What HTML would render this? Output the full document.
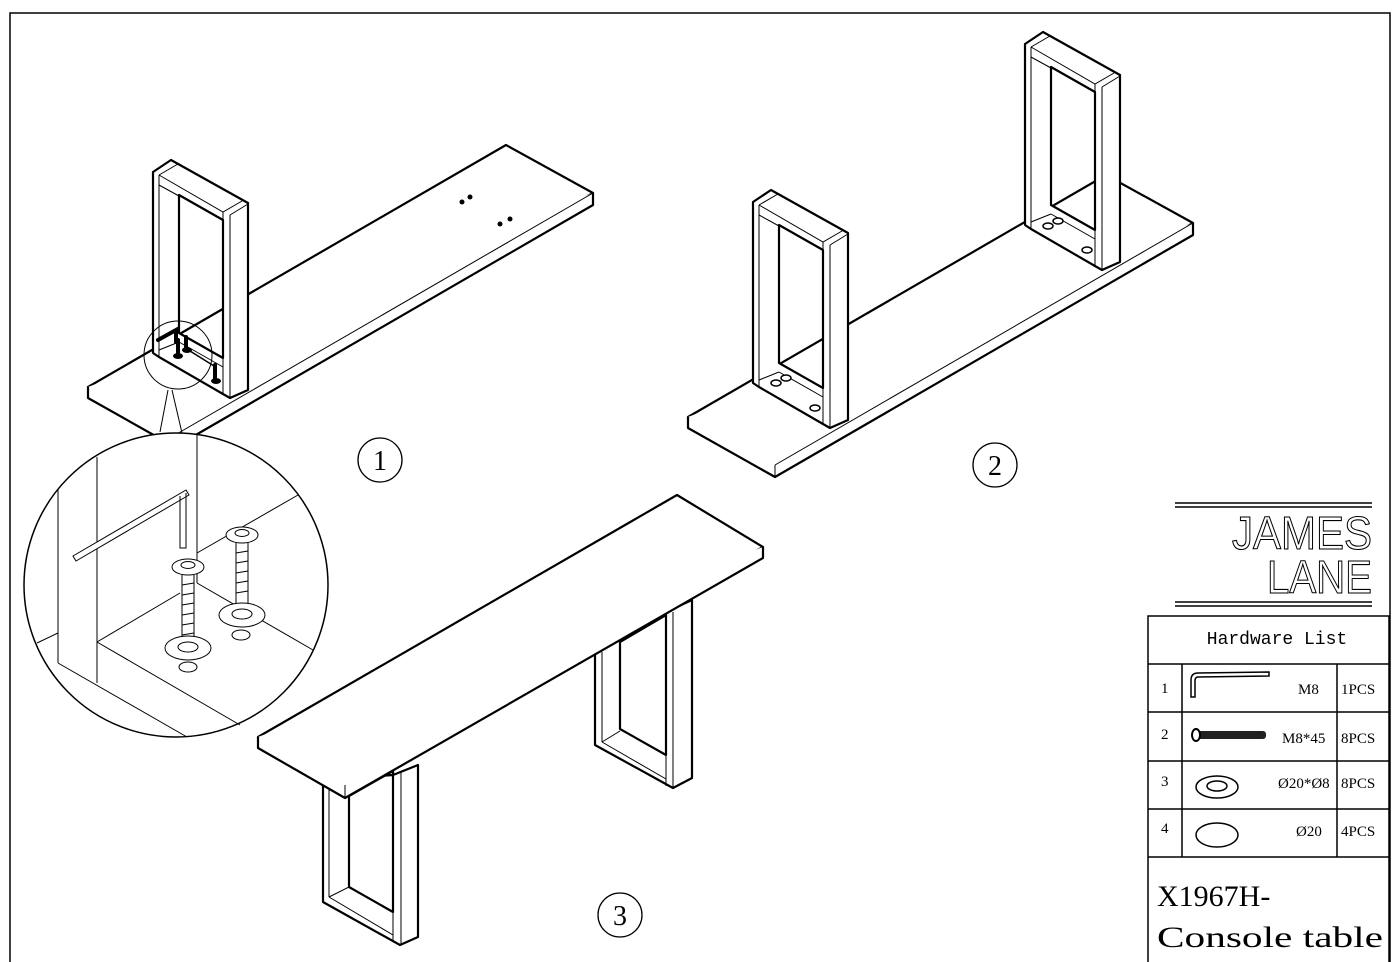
<!DOCTYPE html>
<html><head><meta charset="utf-8"><style>
html,body{margin:0;padding:0;background:#fff}
svg{display:block}
text{font-family:"Liberation Serif",serif}
</style></head><body>
<svg width="1398" height="962" viewBox="0 0 1398 962" xmlns="http://www.w3.org/2000/svg">
<defs>
<g id="board">
  <path d="M688,417 L1106,175 L1193,223 L775,465 Z" fill="#fff" stroke="#000" stroke-width="2.2" stroke-linejoin="round"/>
  <path d="M688,417 L688,428 L775,477 L1193,235 L1193,223" fill="#fff" stroke="#000" stroke-width="2.2" stroke-linejoin="round"/>
  <path d="M775,465 L775,477" stroke="#000" stroke-width="1"/>
  <path d="M775,465 L1193,223" stroke="#000" stroke-width="1"/>
</g>
<g id="frame">
  <path d="M753,202 L771,190 L848,233 L848,420 L830,428 L823,424 L759,387 L753,383 Z M779,225 L823,250 L823,388 L779,363 Z" fill="#fff" fill-rule="evenodd" stroke="#000" stroke-width="2.2" stroke-linejoin="round"/>
  <g stroke="#000" stroke-width="1" fill="none">
    <path d="M759,205 L778,194"/>
    <path d="M759,205 L823,242 L842,231"/>
    <path d="M823,242 L823,424"/>
    <path d="M830,245 L830,428"/>
    <path d="M830,245 L848,234"/>
    <path d="M759,205 L759,387"/>
    <path d="M759,215 L779,226"/>
    <path d="M779,372 L823,397"/>
    <path d="M759,380 L779,372"/>
  </g>
</g>
</defs>

<path d="M10,962 L10,13 L1390,13 L1390,962" fill="none" stroke="#000" stroke-width="1.5"/>

<use href="#board"/>
<use href="#frame"/>
<use href="#frame" transform="translate(272,-158)"/>
<g fill="#fff" stroke="#000" stroke-width="1.5">
  <ellipse cx="776" cy="383" rx="5" ry="3"/><ellipse cx="786" cy="378" rx="5" ry="3"/><ellipse cx="815" cy="408" rx="5" ry="3"/>
  <ellipse cx="1048" cy="226" rx="5" ry="3"/><ellipse cx="1058" cy="221" rx="5" ry="3"/><ellipse cx="1087" cy="250" rx="5" ry="3"/>
</g>

<g transform="translate(-600,-30)">
  <use href="#board"/>
  <use href="#frame"/>
</g>
<g fill="#000">
  <circle cx="462" cy="202" r="2.5"/><circle cx="470" cy="197" r="2.5"/>
  <circle cx="500" cy="224" r="2.5"/><circle cx="510" cy="219" r="2.5"/>
</g>
<g stroke="#000" stroke-width="4" stroke-linecap="round" fill="none">
  <path d="M158,340 L176,330 L176,342"/>
  <path d="M178,340 L178,355"/><path d="M186,337 L186,350"/><path d="M215,365 L215,380"/>
</g>
<g fill="#000"><ellipse cx="178" cy="356" rx="5" ry="3"/><ellipse cx="187" cy="350" rx="5" ry="3"/><ellipse cx="216" cy="381" rx="5" ry="3"/></g>
<path d="M190,351 L214,366" stroke="#000" stroke-width="1.5"/>
<circle cx="178" cy="355" r="34" fill="none" stroke="#000" stroke-width="1"/>
<path d="M160,432 L168,390 M182,433 L172,390" stroke="#000" stroke-width="1"/>

<circle cx="176" cy="585" r="152" fill="#fff" stroke="#000" stroke-width="1.5"/>
<g stroke="#000" stroke-width="1" fill="none">
  <path d="M197,435 L197,583"/>
  <path d="M97,457 L97,683"/>
  <path d="M58,490 L58,663"/>
  <path d="M58,663 L187,737"/>
  <path d="M97,642 L240,725"/>
  <path d="M97,642 L180,593"/>
  <path d="M197,583 L313,650"/>
  <path d="M197,553 L298,495"/>
  <path d="M37,643 L58,633"/>
  <path d="M73,556 L186,490 L189,495 L76,561 Z" fill="#fff"/>
  <path d="M180,496 L180,548 L186,548 L186,493"/>
  <ellipse cx="188" cy="567" rx="16" ry="8" fill="#fff"/>
  <ellipse cx="188" cy="565" rx="7" ry="3.5"/>
  <path d="M182,575 L182,640 M194,575 L194,640"/>
  <path d="M182,585 L194,583 M182,595 L194,593 M182,605 L194,603 M182,615 L194,613 M182,625 L194,623 M182,635 L194,633"/>
  <ellipse cx="188" cy="648" rx="23" ry="12" fill="#fff"/>
  <ellipse cx="188" cy="647" rx="10" ry="5"/>
  <ellipse cx="188" cy="667" rx="9" ry="5"/>
  <ellipse cx="242" cy="535" rx="16" ry="8" fill="#fff"/>
  <ellipse cx="242" cy="533" rx="7" ry="3.5"/>
  <path d="M236,543 L236,605 M248,543 L248,605"/>
  <path d="M236,553 L248,551 M236,563 L248,561 M236,573 L248,571 M236,583 L248,581 M236,593 L248,591"/>
  <ellipse cx="242" cy="615" rx="23" ry="12" fill="#fff"/>
  <ellipse cx="242" cy="614" rx="10" ry="5"/>
  <ellipse cx="241" cy="635" rx="9" ry="5"/>
</g>

<g stroke="#000" stroke-linejoin="round">
  <path d="M323,780 L323,902 L400,945 L418,937 L418,765 L393,775 Z M349,796 L349,887 L393,912 L393,771 Z" fill="#fff" fill-rule="evenodd" stroke-width="2.2"/>
  <path d="M329,785 L329,897 M329,897 L349,887 M329,897 L393,935 M393,775 L393,940 M401,771 L401,945" fill="none" stroke-width="1"/>
  <path d="M595,652 L595,745 L673,788 L692,778 L692,600 L666,612 Z M620,642 L620,729 L666,755 L666,615 Z" fill="#fff" fill-rule="evenodd" stroke-width="2.2"/>
  <path d="M602,652 L602,742 M602,742 L620,731 M602,742 L666,779 M666,612 L666,786 M673,612 L673,788" fill="none" stroke-width="1"/>
  <path d="M258,737 L677,495 L763,547 L345,785 Z" fill="#fff" stroke-width="2.2"/>
  <path d="M258,737 L258,748 L345,798 L763,558 L763,547" fill="#fff" stroke-width="2.2"/>
  <path d="M345,785 L345,798" stroke-width="1"/>
</g>

<g fill="none" stroke="#000" stroke-width="1.3">
  <circle cx="380" cy="460" r="22"/><circle cx="995" cy="465" r="22"/><circle cx="620" cy="915" r="22"/>
</g>
<g font-size="28" text-anchor="middle" fill="#000">
  <text x="380" y="470">1</text><text x="995" y="475">2</text><text x="620" y="925">3</text>
</g>

<g stroke="#000" stroke-width="1.5">
  <path d="M1175,503 L1372,503 M1175,507 L1372,507 M1175,602 L1372,602 M1175,606 L1372,606"/>
</g>
<g fill="#fff" stroke="#000" stroke-width="1.1" font-size="46">
  <text x="1232" y="549" textLength="140" lengthAdjust="spacingAndGlyphs" style="font-family:'Liberation Sans Narrow','Liberation Sans',sans-serif">JAMES</text>
  <text x="1267" y="593" textLength="105" lengthAdjust="spacingAndGlyphs" style="font-family:'Liberation Sans Narrow','Liberation Sans',sans-serif">LANE</text>
</g>

<g stroke="#000" stroke-width="1.5" fill="none">
  <path d="M1148,962 L1148,616 L1389,616 L1389,962"/>
  <path d="M1148,664 L1389,664 M1148,712 L1389,712 M1148,761 L1389,761 M1148,809 L1389,809 M1148,857 L1389,857"/>
  <path d="M1182,664 L1182,857 M1337,664 L1337,857"/>
</g>
<text x="1277" y="644" font-size="18" text-anchor="middle" style="font-family:'Liberation Mono',monospace">Hardware List</text>
<g font-size="15" fill="#000">
  <text x="1161" y="693">1</text><text x="1161" y="739">2</text><text x="1161" y="786">3</text><text x="1161" y="833">4</text>
  <text x="1298" y="694">M8</text><text x="1341" y="694">1PCS</text>
  <text x="1282" y="743">M8*45</text><text x="1341" y="743">8PCS</text>
  <text x="1278" y="788">Ø20*Ø8</text><text x="1341" y="788">8PCS</text>
  <text x="1296" y="836">Ø20</text><text x="1341" y="836">4PCS</text>
</g>
<path d="M1191,697 L1191,680 Q1191,673 1198,673 L1269,672 L1269,676 L1198,677 Q1195,677 1195,681 L1195,697 Z" fill="#fff" stroke="#000" stroke-width="1.5"/>
<rect x="1196" y="731" width="70" height="8" rx="3" fill="#222"/>
<ellipse cx="1196" cy="735" rx="4" ry="6" fill="#fff" stroke="#000" stroke-width="2"/>
<g fill="#fff" stroke="#000" stroke-width="1.5">
  <ellipse cx="1217" cy="787" rx="21" ry="11"/><ellipse cx="1217" cy="786" rx="10" ry="5"/>
  <ellipse cx="1217" cy="835" rx="21" ry="12"/>
</g>
<g font-size="30" fill="#000" style="font-family:'Liberation Mono',monospace">
  <text x="1157" y="906">X1967H-</text>
  <text x="1157" y="947" textLength="226" lengthAdjust="spacingAndGlyphs">Console table</text>
</g>
</svg>
</body></html>
